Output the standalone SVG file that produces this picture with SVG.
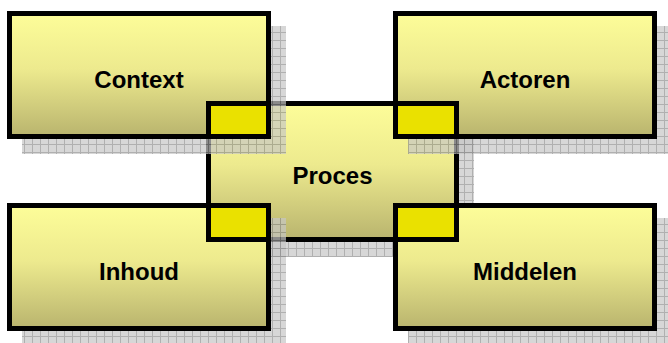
<svg xmlns="http://www.w3.org/2000/svg" width="668" height="343" viewBox="0 0 668 343">
  <defs>
    <linearGradient id="boxGrad" x1="0" y1="0" x2="0" y2="1">
      <stop offset="0" stop-color="#FDFD99"/>
      <stop offset="0.45" stop-color="#EDEA8E"/>
      <stop offset="1" stop-color="#B9B46E"/>
    </linearGradient>
    <pattern id="shadowGrid" x="0" y="0" width="8" height="8" patternUnits="userSpaceOnUse">
      <rect width="8" height="8" fill="#c6c6c6"/>
      <path d="M0 0.5H8M0.5 0V8" stroke="#8e8e8e" stroke-width="1"/>
    </pattern>
  </defs>
  <style>
    .box { fill: url(#boxGrad); stroke: #000; stroke-width: 5; }
    .corner { fill: #EAE100; stroke: #000; stroke-width: 5; }
    .shadow { fill: url(#shadowGrid); opacity: 0.7; }
    .label { font-family: "Liberation Sans", Arial, sans-serif; font-size: 24px; font-weight: bold; fill: #000; text-anchor: middle; }
  </style>
  <rect width="668" height="343" fill="#fff"/>

  <g id="proces">
    <rect class="shadow" x="221" y="116" width="253" height="141"/>
    <rect class="box" x="208.5" y="103.5" width="248" height="136"/>
    <text class="label" x="332.5" y="184">Proces</text>
  </g>

  <g id="context">
    <rect class="shadow" x="22" y="26" width="264" height="128"/>
    <rect class="box" x="9.5" y="13.5" width="259" height="123"/>
    <text class="label" x="139" y="88">Context</text>
  </g>

  <g id="actoren">
    <rect class="shadow" x="408" y="26" width="264" height="128"/>
    <rect class="box" x="395.5" y="13.5" width="259" height="123"/>
    <text class="label" x="525" y="88">Actoren</text>
  </g>

  <g id="inhoud">
    <rect class="shadow" x="22" y="218" width="264" height="128"/>
    <rect class="box" x="9.5" y="205.5" width="259" height="123"/>
    <text class="label" x="139" y="280">Inhoud</text>
  </g>

  <g id="middelen">
    <rect class="shadow" x="408" y="218" width="264" height="128"/>
    <rect class="box" x="395.5" y="205.5" width="259" height="123"/>
    <text class="label" x="525" y="280">Middelen</text>
  </g>

  <g id="overlaps">
    <rect class="corner" x="208.5" y="103.5" width="60" height="33"/>
    <rect class="corner" x="395.5" y="103.5" width="61" height="33"/>
    <rect class="corner" x="208.5" y="205.5" width="60" height="34"/>
    <rect class="corner" x="395.5" y="205.5" width="61" height="34"/>
  </g>
</svg>
